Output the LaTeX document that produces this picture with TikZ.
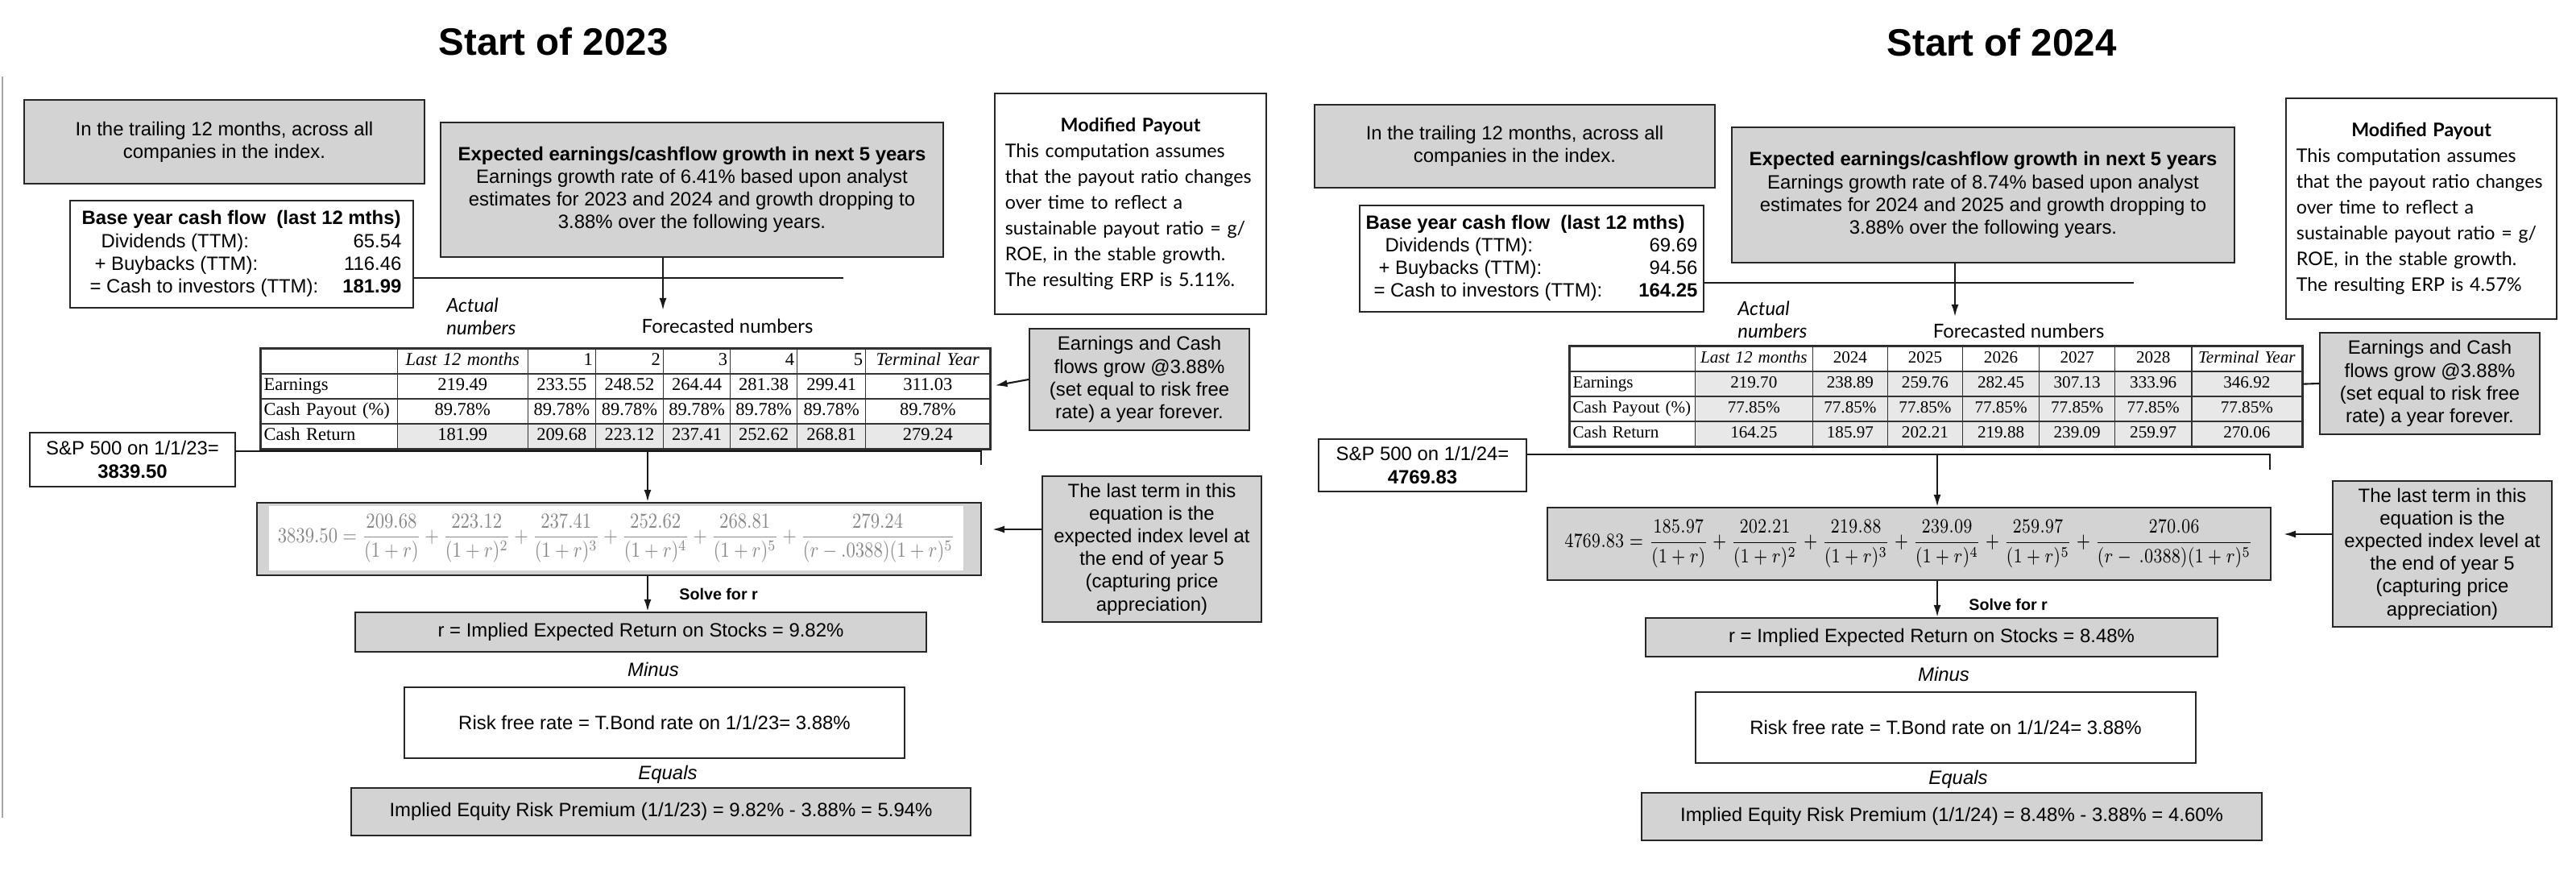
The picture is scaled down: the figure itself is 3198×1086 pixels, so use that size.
\documentclass[tikz,border=0pt]{standalone}
\usepackage[no-math]{fontspec}
\setmainfont{Liberation Sans}
\newfontfamily\tabfont{Liberation Serif}
\newfontfamily\payfont{Lato}
\usepackage{amsmath}
\usepackage{graphicx}
\usetikzlibrary{arrows.meta,matrix}

\definecolor{boxgray}{RGB}{211,211,211}
\definecolor{cellgray}{RGB}{232,232,232}
\definecolor{eqgray}{RGB}{135,135,135}

\newcommand{\boxsize}{\fontsize{6.8}{8}\selectfont}
\newcommand{\tabsize}{\fontsize{6.4}{7.5}\selectfont}
\newcommand{\smalltabsize}{\fontsize{6}{7}\selectfont}
\newcommand{\paysize}{\fontsize{6.6}{9.1}\selectfont}

\tikzstyle{graybox}=[draw=black!85,fill=boxgray,line width=0.6pt,align=center,font=\boxsize,inner sep=0pt]
\tikzstyle{whitebox}=[draw=black!85,fill=white,line width=0.6pt,align=center,font=\boxsize,inner sep=0pt]
\tikzstyle{conn}=[draw=black!90,line width=0.6pt]
\tikzstyle{arr}=[conn,-{Latex[length=0.15cm,width=0.09cm]}]
\tikzstyle{heading}=[font=\fontsize{13.5}{15}\selectfont\bfseries]
\tikzstyle{note}=[font=\boxsize\itshape]
\tikzstyle{label}=[font=\boxsize\payfont,align=left,anchor=west]
\tikzstyle{solve}=[font=\fontsize{5.6}{6.5}\selectfont\bfseries,anchor=west]
\tikzstyle{cell}=[draw=black!80,line width=0.4pt,inner xsep=1pt,inner ysep=0pt,
  text height=0.15cm,text depth=0.05cm,minimum height=0.31cm,align=center,font=\tabsize\tabfont]
\tikzstyle{datatab}=[matrix of nodes,nodes={cell},column sep=-0.4pt,row sep=-0.4pt,
  inner sep=0pt,draw=black!85,line width=0.8pt,anchor=north west]

\begin{document}
\begin{tikzpicture}[x=0.01cm,y=-0.01cm]
\useasboundingbox (0,0) rectangle (3198,1086);

\draw[gray!70,line width=0.4pt] (3,95) -- (3,1015);

% ---------------- start of 2023 ----------------
\node[heading] (head23) at (687,52) {Start of 2023};

\node[graybox,minimum width=4.97cm,minimum height=1.04cm] (trail23) at (278.5,176)
  {In the trailing 12 months, across all\\ companies in the index.};
\node[whitebox,minimum width=4.26cm,minimum height=1.33cm] (base23) at (300,315.5)
  {\begin{tabular}{@{}l@{\hspace{0.3cm}}r@{}}
   \multicolumn{2}{@{}l@{}}{\textbf{Base year cash flow\ \ (last 12 mths)}}\\
   \hspace{0.24cm}Dividends (TTM): & 65.54\\
   \hspace{0.16cm}+ Buybacks (TTM): & 116.46\\
   \hspace{0.1cm}= Cash to investors (TTM): & \textbf{181.99}
   \end{tabular}};
\node[graybox,minimum width=6.24cm,minimum height=1.67cm] (growth23) at (859,235.5)
  {\textbf{Expected earnings/cashflow growth in next 5 years}\\
   Earnings growth rate of 6.41\% based upon analyst\\
   estimates for 2023 and 2024 and growth dropping to\\
   3.88\% over the following years.};
\node[whitebox,minimum width=3.37cm,minimum height=2.74cm,text width=3.11cm,align=left,
  font=\paysize\payfont] (payout23) at (1403.5,253)
  {\hfill\textbf{Modified Payout}\hfill\null\\
   This computation assumes\\
   that the payout ratio changes\\
   over time to reflect a\\
   sustainable payout ratio = g/\\
   ROE, in the stable growth.\\
   The resulting ERP is 5.11\%.};

\node[label] (actual23) at (542,393) {\itshape Actual\\ \itshape numbers};
\node[font=\boxsize\payfont] (fore23) at (903,405) {Forecasted numbers};

\matrix (tab23) [datatab,
  column 1/.style={nodes={text width=1.62cm,align=left}},
  column 2/.style={nodes={text width=1.55cm}},
  column 3/.style={nodes={text width=0.77cm}},
  column 4/.style={nodes={text width=0.77cm}},
  column 5/.style={nodes={text width=0.76cm}},
  column 6/.style={nodes={text width=0.76cm}},
  column 7/.style={nodes={text width=0.78cm}},
  column 8/.style={nodes={text width=1.47cm}},
  row 4/.style={nodes={fill=cellgray}}] at (322,431) {
  \mbox{} & \textit{Last 12 months} & |[align=right]| 1 & |[align=right]| 2 & |[align=right]| 3 & |[align=right]| 4 & |[align=right]| 5 & \textit{Terminal Year}\\
  Earnings & 219.49 & 233.55 & 248.52 & 264.44 & 281.38 & 299.41 & 311.03\\
  Cash Payout (\%) & 89.78\% & 89.78\% & 89.78\% & 89.78\% & 89.78\% & 89.78\% & 89.78\%\\
  |[fill=white]| Cash Return & 181.99 & 209.68 & 223.12 & 237.41 & 252.62 & 268.81 & 279.24\\
};

\node[graybox,minimum width=2.73cm,minimum height=1.26cm] (grow23) at (1414.5,471)
  {Earnings and Cash\\ flows grow @3.88\%\\ (set equal to risk free\\ rate) a year forever.};
\node[whitebox,minimum width=2.55cm,minimum height=0.67cm] (sp23) at (164.5,570.5)
  {S\&P 500 on 1/1/23=\\ \textbf{3839.50}};

\node[graybox,minimum width=8.99cm,minimum height=0.9cm] (eq23) at (768.5,669) {};
\node[fill=white,inner sep=0pt,minimum width=8.62cm,minimum height=0.8cm,text=eqgray] (eqin23) at (765,668)
  {\resizebox*{8.4cm}{0.6cm}{$\displaystyle 3839.50=\frac{209.68}{(1+r)}+\frac{223.12}{(1+r)^2}+\frac{237.41}{(1+r)^3}+\frac{252.62}{(1+r)^4}+\frac{268.81}{(1+r)^5}+\frac{279.24}{(r-.0388)(1+r)^5}$}};
\node[graybox,minimum width=2.72cm,minimum height=1.81cm] (last23) at (1430,681.5)
  {The last term in this\\ equation is the\\ expected index level at\\ the end of year 5\\ (capturing price\\ appreciation)};

\node[solve] (solve23) at (831,737) {Solve for r};
\node[graybox,minimum width=7.09cm,minimum height=0.49cm] (rr23) at (795.5,784.5)
  {r = Implied Expected Return on Stocks = 9.82\%};
\node[note] (minus23) at (811,831) {Minus};
\node[whitebox,minimum width=6.21cm,minimum height=0.88cm] (rf23) at (812.5,897)
  {Risk free rate = T.Bond rate on 1/1/23= 3.88\%};
\node[note] (equals23) at (829,961) {Equals};
\node[graybox,minimum width=7.69cm,minimum height=0.59cm] (erp23) at (820.5,1007.5)
  {Implied Equity Risk Premium (1/1/23) = 9.82\% - 3.88\% = 5.94\%};

\coordinate (topline23) at (1047,345);
\coordinate (gtip23) at (823,385);
\coordinate (bend23) at (1218,560);
\coordinate (brk23) at (1218,577);
\coordinate (drop23) at (804,560);
\coordinate (ltip23) at (1232,657);

\draw[conn] (base23.east |- topline23) -- (topline23);
\draw[arr] (growth23.south -| gtip23) -- (gtip23);
\draw[arr,shorten >=0.06cm] (grow23.west) -- (tab23-2-8.east);
\draw[conn] (sp23.east |- bend23) -- (bend23) -- (brk23);
\draw[arr] (drop23) -- (eq23.north -| drop23);
\draw[arr] (last23.west |- ltip23) -- (ltip23);
\draw[arr] (eq23.south -| drop23) -- (rr23.north -| drop23);

% ---------------- start of 2024 ----------------
\node[heading] (head24) at (2485,53) {Start of 2024};

\node[graybox,minimum width=4.97cm,minimum height=1.03cm] (trail24) at (1880.5,181.5)
  {In the trailing 12 months, across all\\ companies in the index.};
\node[whitebox,minimum width=4.27cm,minimum height=1.32cm] (base24) at (1901.5,321)
  {\begin{tabular}{@{}l@{\hspace{0.45cm}}r@{}}
   \multicolumn{2}{@{}l@{}}{\textbf{Base year cash flow\ \ (last 12 mths)}}\\
   \hspace{0.24cm}Dividends (TTM): & 69.69\\
   \hspace{0.16cm}+ Buybacks (TTM): & 94.56\\
   \hspace{0.1cm}= Cash to investors (TTM): & \textbf{164.25}
   \end{tabular}};
\node[graybox,minimum width=6.24cm,minimum height=1.68cm] (growth24) at (2462,242)
  {\textbf{Expected earnings/cashflow growth in next 5 years}\\
   Earnings growth rate of 8.74\% based upon analyst\\
   estimates for 2024 and 2025 and growth dropping to\\
   3.88\% over the following years.};
\node[whitebox,minimum width=3.36cm,minimum height=2.74cm,text width=3.1cm,align=left,
  font=\paysize\payfont] (payout24) at (3006,259)
  {\hfill\textbf{Modified Payout}\hfill\null\\
   This computation assumes\\
   that the payout ratio changes\\
   over time to reflect a\\
   sustainable payout ratio = g/\\
   ROE, in the stable growth.\\
   The resulting ERP is 4.57\%};

\node[label] (actual24) at (2145,397) {\itshape Actual\\ \itshape numbers};
\node[font=\boxsize\payfont] (fore24) at (2506,411) {Forecasted numbers};

\matrix (tab24) [datatab,
  nodes={font=\smalltabsize\tabfont},
  column 1/.style={nodes={text width=1.48cm,align=left}},
  column 2/.style={nodes={text width=1.39cm}},
  column 3/.style={nodes={text width=0.86cm}},
  column 4/.style={nodes={text width=0.86cm}},
  column 5/.style={nodes={text width=0.88cm}},
  column 6/.style={nodes={text width=0.87cm}},
  column 7/.style={nodes={text width=0.88cm}},
  column 8/.style={nodes={text width=1.30cm}},
  row 2/.style={nodes={fill=cellgray}},
  row 3/.style={nodes={fill=cellgray}},
  row 4/.style={nodes={fill=cellgray}}] at (1947,428) {
  \mbox{} & \textit{Last 12 months} & 2024 & 2025 & 2026 & 2027 & 2028 & \textit{Terminal Year}\\
  |[fill=white]| Earnings & 219.70 & 238.89 & 259.76 & 282.45 & 307.13 & 333.96 & 346.92\\
  |[fill=white]| Cash Payout (\%) & 77.85\% & 77.85\% & 77.85\% & 77.85\% & 77.85\% & 77.85\% & 77.85\%\\
  |[fill=white]| Cash Return & 164.25 & 185.97 & 202.21 & 219.88 & 239.09 & 259.97 & 270.06\\
};

\node[graybox,minimum width=2.73cm,minimum height=1.26cm] (grow24) at (3016.5,476)
  {Earnings and Cash\\ flows grow @3.88\%\\ (set equal to risk free\\ rate) a year forever.};
\node[whitebox,minimum width=2.58cm,minimum height=0.65cm] (sp24) at (1766,577.5)
  {S\&P 500 on 1/1/24=\\ \textbf{4769.83}};

\node[graybox,minimum width=8.98cm,minimum height=0.9cm] (eq24) at (2370,675)
  {\resizebox*{8.55cm}{0.6cm}{$\displaystyle 4769.83=\frac{185.97}{(1+r)}+\frac{202.21}{(1+r)^2}+\frac{219.88}{(1+r)^3}+\frac{239.09}{(1+r)^4}+\frac{259.97}{(1+r)^5}+\frac{270.06}{(r-\,.0388)(1+r)^5}$}};
\node[graybox,minimum width=2.72cm,minimum height=1.81cm] (last24) at (3032,687.5)
  {The last term in this\\ equation is the\\ expected index level at\\ the end of year 5\\ (capturing price\\ appreciation)};

\node[solve] (solve24) at (2432,750) {Solve for r};
\node[graybox,minimum width=7.1cm,minimum height=0.48cm] (rr24) at (2398,791)
  {r = Implied Expected Return on Stocks = 8.48\%};
\node[note] (minus24) at (2413,837) {Minus};
\node[whitebox,minimum width=6.21cm,minimum height=0.88cm] (rf24) at (2415.5,903)
  {Risk free rate = T.Bond rate on 1/1/24= 3.88\%};
\node[note] (equals24) at (2431,967) {Equals};
\node[graybox,minimum width=7.7cm,minimum height=0.59cm] (erp24) at (2423,1013.5)
  {Implied Equity Risk Premium (1/1/24) = 8.48\% - 3.88\% = 4.60\%};

\coordinate (topline24) at (2649,351);
\coordinate (gtip24) at (2427,393);
\coordinate (bend24) at (2818,564);
\coordinate (brk24) at (2818,583);
\coordinate (drop24) at (2405,564);
\coordinate (ltip24) at (2835,663);

\draw[conn] (base24.east |- topline24) -- (topline24);
\draw[arr] (growth24.south -| gtip24) -- (gtip24);
\draw[conn] (grow24.west) -- (tab24-2-8.east);
\draw[conn] (sp24.east |- bend24) -- (bend24) -- (brk24);
\draw[arr] (drop24) -- (eq24.north -| drop24);
\draw[arr] (last24.west |- ltip24) -- (ltip24);
\draw[arr] (eq24.south -| drop24) -- (rr24.north -| drop24);
\end{tikzpicture}
\end{document}
